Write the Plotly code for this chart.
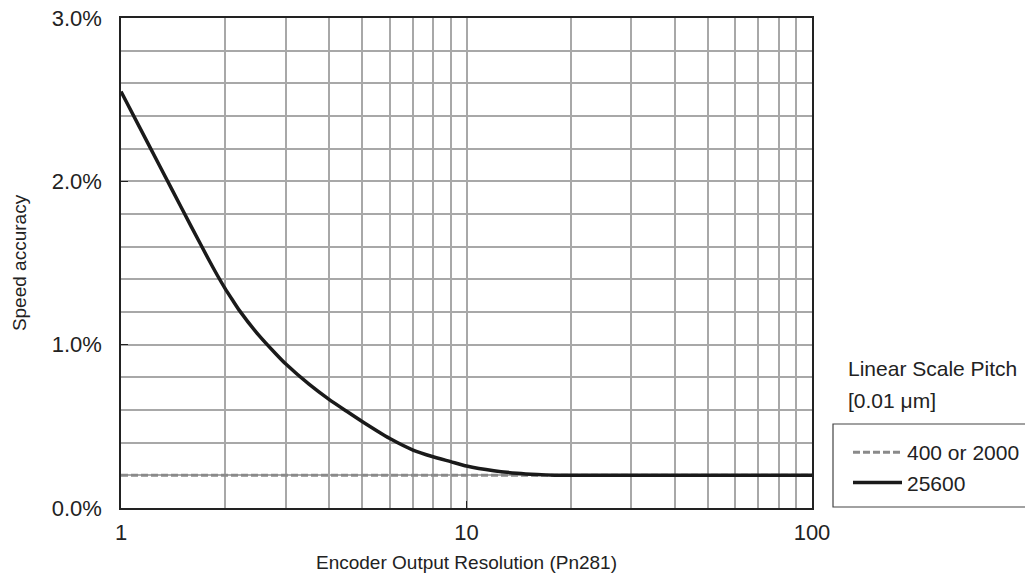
import plotly.graph_objects as go

# Data
x_res = [1, 1.2, 1.4, 1.6, 1.8, 1.9, 2, 2.1, 2.2, 2.5, 2.8, 3, 3.5, 4, 4.5, 5, 6, 7, 8, 9,
         10, 12, 14, 16, 18, 20, 30, 50, 100]
acc_25600 = [2.55, 2.228, 1.955, 1.72, 1.515, 1.425, 1.345, 1.275, 1.21, 1.06, 0.946, 0.881,
             0.758, 0.665, 0.592, 0.528, 0.425, 0.355, 0.314, 0.284,
             0.257, 0.228, 0.213, 0.205, 0.201, 0.2, 0.2, 0.2, 0.2]
x_flat = [1, 100]
acc_400_2000 = [0.2, 0.2]

x_tickvals = [1, 10, 100]
x_ticktext = ["1", "10", "100"]
x_minor = [2, 3, 4, 5, 6, 7, 8, 9, 20, 30, 40, 50, 60, 70, 80, 90]
y_tickvals = [0, 1, 2, 3]
y_ticktext = ["0.0%", "1.0%", "2.0%", "3.0%"]
y_minor = [0.2, 0.4, 0.6, 0.8, 1.2, 1.4, 1.6, 1.8, 2.2, 2.4, 2.6, 2.8]

FONT = "Liberation Sans, Arial, sans-serif"
GRID = "#a8a8a8"
INK = "#222222"

# plot area in page pixels
PL, PR, PT, PB = 121, 812, 18, 508
W, H = 1025, 576


def px(xp):
    return (xp - PL) / (PR - PL)


def py(yp):
    return (PB - yp) / (PB - PT)


fig = go.Figure()
fig.add_trace(go.Scatter(x=x_flat, y=acc_400_2000, mode="lines", name="400 or 2000",
                         line=dict(color="#8a8a8a", width=3, dash="7px,3px")))
fig.add_trace(go.Scatter(x=x_res, y=acc_25600, mode="lines", name="25600",
                         line=dict(color="#1a1a1a", width=3.5, shape="spline", smoothing=0.5)))

fig.update_layout(
    width=W, height=H,
    margin=dict(l=PL, r=W - PR, t=PT, b=H - PB, autoexpand=False),
    paper_bgcolor="white", plot_bgcolor="white",
    font=dict(family=FONT, size=20, color=INK),
    showlegend=True,
    legend=dict(x=px(848), y=py(432), xanchor="left", yanchor="top",
                bgcolor="rgba(0,0,0,0)", borderwidth=0,
                font=dict(family=FONT, size=21, color=INK),
                itemwidth=49, tracegroupgap=0),
)

fig.update_xaxes(
    type="log", range=[0, 2],
    tickvals=x_tickvals, ticktext=x_ticktext,
    ticks="inside", ticklen=7, tickcolor=INK, tickwidth=1,
    showgrid=True, gridcolor=GRID, gridwidth=1.5,
    minor=dict(tickvals=x_minor, showgrid=True, gridcolor=GRID, gridwidth=1.5, ticks=""),
    showline=True, linecolor=INK, linewidth=1.5, mirror=True,
    zeroline=False,
    ticklabelstandoff=4, ticklabeloverflow="allow",
    title=dict(text="Encoder Output Resolution (Pn281)", standoff=12,
               font=dict(family=FONT, size=19, color=INK)),
    tickfont=dict(family=FONT, size=22, color=INK),
)
fig.update_yaxes(
    range=[0, 3],
    tickvals=y_tickvals, ticktext=y_ticktext,
    ticks="inside", ticklen=7, tickcolor=INK, tickwidth=1,
    showgrid=True, gridcolor=GRID, gridwidth=1.5,
    minor=dict(tickvals=y_minor, showgrid=True, gridcolor=GRID, gridwidth=1.5, ticks=""),
    showline=True, linecolor=INK, linewidth=1.5, mirror=True,
    zeroline=False,
    ticklabelstandoff=13, ticklabeloverflow="allow",
    title=dict(text="Speed accuracy", standoff=20,
               font=dict(family=FONT, size=19, color=INK)),
    tickfont=dict(family=FONT, size=22, color=INK),
)

# legend box and title
fig.add_shape(type="rect", xref="paper", yref="paper",
              x0=px(833), x1=px(1060), y0=py(507), y1=py(424),
              line=dict(color="#444", width=1.2), fillcolor="rgba(0,0,0,0)")
fig.add_annotation(xref="paper", yref="paper", x=px(846), y=py(369),
                   xanchor="left", yanchor="middle", showarrow=False,
                   text="Linear Scale Pitch", font=dict(family=FONT, size=21, color=INK))
fig.add_annotation(xref="paper", yref="paper", x=px(846), y=py(400),
                   xanchor="left", yanchor="middle", showarrow=False,
                   text="[0.01 μm]", font=dict(family=FONT, size=21, color=INK))

fig.write_html("out.html", config={"displayModeBar": False},
               post_script="document.body.style.margin='0';document.body.style.overflow='hidden';")
